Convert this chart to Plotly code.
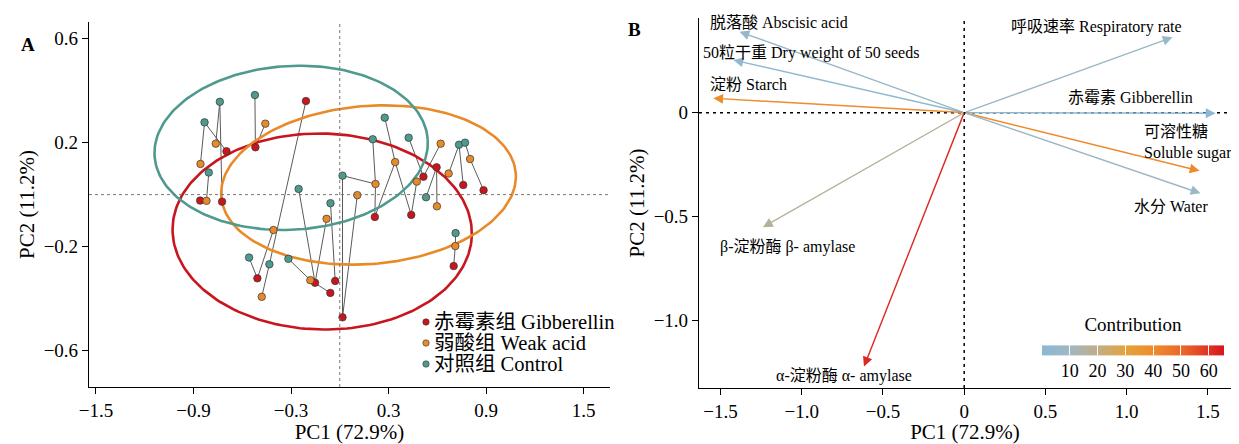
import numpy as np
import plotly.graph_objects as go
from plotly.colors import sample_colorscale

# ---------------- Panel A: PCA scores ----------------
gib_x = [-0.208, -0.697, -0.519, 0.515, 0.596, 0.760, 0.885, -0.859, -0.724, 0.216, 0.440,
         -0.507, -0.152, -0.058, -0.028, 0.017, 0.701]
gib_y = [0.360, 0.167, 0.182, 0.069, 0.105, 0.037, 0.017, -0.023, -0.027, -0.086, -0.078,
         -0.322, -0.339, -0.378, -0.332, -0.472, -0.275]
weak_x = [-0.857, -0.763, -0.458, 0.341, 0.220, 0.108, 0.474, 0.621, 0.670, 0.802, -0.820,
          0.598, -0.408, -0.081, -0.181, -0.480, 0.711]
weak_y = [0.118, 0.196, 0.273, 0.125, 0.041, -0.002, 0.050, 0.196, 0.081, 0.137, -0.024,
          -0.045, -0.136, -0.093, -0.329, -0.393, -0.198]
ctrl_x = [-0.832, -0.738, -0.522, -0.806, -0.253, 0.017, 0.277, 0.203, 0.424, 0.734, 0.771,
          0.531, -0.057, -0.558, -0.433, -0.316, 0.713]
ctrl_y = [0.278, 0.357, 0.383, 0.085, 0.022, 0.073, 0.296, 0.213, 0.219, 0.192, 0.200,
          -0.010, -0.033, -0.242, -0.268, -0.247, -0.148]

# links between samples: (group, index, group, index), 1-based
links = [("C", 1, "W", 1), ("C", 1, "G", 2), ("C", 2, "W", 2), ("C", 2, "G", 9),
         ("C", 3, "G", 3), ("G", 3, "W", 3), ("C", 4, "W", 11), ("W", 11, "G", 8),
         ("G", 1, "C", 15), ("C", 15, "W", 16), ("W", 13, "G", 12), ("C", 14, "G", 12),
         ("C", 5, "G", 13), ("C", 16, "W", 15), ("W", 15, "G", 14), ("W", 14, "G", 13),
         ("C", 13, "G", 15), ("C", 6, "G", 16), ("W", 6, "G", 16), ("C", 6, "W", 5),
         ("C", 8, "W", 5), ("W", 5, "G", 10), ("W", 4, "G", 10), ("C", 7, "W", 4),
         ("W", 4, "G", 11), ("W", 7, "G", 11), ("C", 9, "G", 4), ("W", 8, "G", 4),
         ("G", 5, "W", 12), ("G", 5, "C", 12), ("C", 10, "W", 9), ("C", 10, "G", 6),
         ("C", 11, "W", 10), ("W", 10, "G", 7), ("C", 17, "W", 17), ("W", 17, "G", 17)]

group_names = ["赤霉素组 Gibberellin", "弱酸组 Weak acid", "对照组 Control"]
# confidence ellipses: centre, semi-axes, tilt (degrees)
ell_cx = [-0.108, 0.177, -0.299]
ell_cy = [-0.142, 0.037, 0.180]
ell_a = [0.921, 0.909, 0.842]
ell_b = [0.377, 0.304, 0.315]
ell_tilt = [-1.3, 4.6, 3.3]

a_xticks = [-1.5, -0.9, -0.3, 0.3, 0.9, 1.5]
a_yticks = [-0.6, -0.2, 0.2, 0.6]

# ---------------- Panel B: loadings ----------------
var_labels = ["脱落酸 Abscisic acid", "50粒干重 Dry weight of 50 seeds", "淀粉 Starch",
              "呼吸速率 Respiratory rate", "赤霉素 Gibberellin", "可溶性糖<br>Soluble sugar",
              "水分 Water", "β-淀粉酶 β- amylase", "α-淀粉酶 α- amylase"]
load_x = [-1.383, -1.421, -1.545, 1.283, 1.548, 1.449, 1.455, -1.239, -0.617]
load_y = [0.389, 0.253, 0.069, 0.362, -0.003, -0.280, -0.388, -0.551, -1.221]
contrib = [6, 3, 40, 7, 1, 41, 8, 17, 62]

b_xticks = [-1.5, -1.0, -0.5, 0, 0.5, 1.0, 1.5]
b_xtext = ["−1.5", "−1.0", "−0.5", "0", "0.5", "1.0", "1.5"]
b_yticks = [-1.0, -0.5, 0]
b_ytext = ["−1.0", "−0.5", "0"]
cb_ticks = [10, 20, 30, 40, 50, 60]

# ---------------- styling ----------------
FONT = "Liberation Serif, Times New Roman, Noto Sans CJK SC, serif"
colors = ["#C8161E", "#E98A2A", "#4F9A8E"]
cscale = [[0.0, "#8BB8D5"], [0.15, "#9FB8C2"], [0.3, "#BFAE8A"], [0.46, "#E3A43C"],
          [0.62, "#EE8B2C"], [0.78, "#EA6529"], [1.0, "#D8141D"]]
CMIN, CMAX = 0, 65.5
ASPECT = 1.597  # px per y unit / px per x unit in panel A

# the page body has an 8px margin: size the figure to the remaining window
OFF = 8
W, H = 1239 - OFF, 444 - OFF


def xp(px):  # page pixel -> paper x
    return (px - OFF) / W


def yp(py):  # page pixel -> paper y
    return (H - (py - OFF)) / H


fig = go.Figure()

pts = {"G": (gib_x, gib_y), "W": (weak_x, weak_y), "C": (ctrl_x, ctrl_y)}
lx, ly = [], []
for g1, i1, g2, i2 in links:
    lx += [pts[g1][0][i1 - 1], pts[g2][0][i2 - 1], None]
    ly += [pts[g1][1][i1 - 1], pts[g2][1][i2 - 1], None]
fig.add_trace(go.Scatter(x=lx, y=ly, mode="lines", line=dict(color="#5a5a5a", width=1),
                         showlegend=False, hoverinfo="skip", xaxis="x", yaxis="y"))

t = np.linspace(0, 2 * np.pi, 200)
for k in range(3):
    th = np.deg2rad(ell_tilt[k])
    bk = ell_b[k] * ASPECT
    xs = ell_a[k] * np.cos(t) * np.cos(th) - bk * np.sin(t) * np.sin(th)
    ys = ell_a[k] * np.cos(t) * np.sin(th) + bk * np.sin(t) * np.cos(th)
    fig.add_trace(go.Scatter(x=ell_cx[k] + xs, y=ell_cy[k] + ys / ASPECT, mode="lines",
                             line=dict(color=colors[k], width=2.6), showlegend=False,
                             hoverinfo="skip", xaxis="x", yaxis="y"))

for k, key in enumerate(["G", "W", "C"]):
    fig.add_trace(go.Scatter(x=pts[key][0], y=pts[key][1], mode="markers", name=group_names[k],
                             showlegend=False,
                             marker=dict(color=colors[k], size=7.5, line=dict(color="#333", width=0.7)),
                             xaxis="x", yaxis="y"))

# colour scale trace for panel B (invisible markers, carries the colorbar)
fig.add_trace(go.Scatter(
    x=load_x, y=load_y, mode="markers", showlegend=False, hoverinfo="skip",
    xaxis="x2", yaxis="y2",
    marker=dict(size=1, opacity=0, color=contrib, colorscale=cscale, cmin=CMIN, cmax=CMAX,
                showscale=True,
                colorbar=dict(orientation="h", x=xp(1133), xanchor="center", y=yp(392),
                              yanchor="bottom", len=182, lenmode="pixels", thickness=10,
                              outlinewidth=0, xpad=0, ypad=0,
                              tickvals=cb_ticks, ticks="inside", ticklen=10, tickcolor="white",
                              tickwidth=1, tickfont=dict(family=FONT, size=18, color="black"),
                              title=dict(text="Contribution", side="top",
                                         font=dict(family=FONT, size=19, color="black"))))))

arrow_cols = sample_colorscale(cscale, [(c - CMIN) / (CMAX - CMIN) for c in contrib])
annotations = []
for xv, yv, col in zip(load_x, load_y, arrow_cols):
    annotations.append(dict(x=xv, y=yv, ax=0, ay=0, xref="x2", yref="y2", axref="x2", ayref="y2",
                            text="", showarrow=True, arrowhead=2, arrowsize=1.4, arrowwidth=1.4,
                            arrowcolor=col))

label_pos = [(-1.576, 0.433), (-1.620, 0.286), (-1.576, 0.133), (0.275, 0.413), (0.629, 0.072),
             (1.092, -0.142), (1.035, -0.449), (-1.516, -0.644), (-1.174, -1.266)]
for txt, (px, py) in zip(var_labels, label_pos):
    annotations.append(dict(x=px, y=py, xref="x2", yref="y2", text=txt, showarrow=False,
                            xanchor="left", yanchor="middle", align="left",
                            font=dict(family=FONT, size=16, color="black")))

annotations.append(dict(x=xp(19), y=yp(32), xref="paper", yref="paper", text="<b>A</b>",
                        showarrow=False, font=dict(family=FONT, size=19, color="black")))
annotations.append(dict(x=xp(635), y=yp(17), xref="paper", yref="paper", text="<b>B</b>",
                        showarrow=False, font=dict(family=FONT, size=19, color="black")))

shapes = [
    dict(type="line", xref="x", yref="y domain", x0=0, x1=0, y0=0, y1=1,
         line=dict(color="#777", width=1, dash="dot")),
    dict(type="line", xref="x domain", yref="y", x0=0, x1=1, y0=0, y1=0,
         line=dict(color="#777", width=1, dash="dot")),
    dict(type="line", xref="x2", yref="y2 domain", x0=0, x1=0, y0=0, y1=1,
         line=dict(color="black", width=1.5, dash="3px,4px")),
    dict(type="line", xref="x2 domain", yref="y2", x0=0, x1=1, y0=0, y1=0,
         line=dict(color="black", width=1.5, dash="3px,4px")),
]

# manual legend for panel A (dot + text)
leg_y = [322, 343, 364]
for k in range(3):
    yc = yp(leg_y[k])
    shapes.append(dict(type="circle", xref="paper", yref="paper",
                       x0=xp(426 - 3.2), x1=xp(426 + 3.2), y0=yc - 3.2 / H, y1=yc + 3.2 / H,
                       fillcolor=colors[k], line=dict(color="#333", width=0.6)))
    annotations.append(dict(x=xp(432), y=yc, xref="paper", yref="paper", text=group_names[k],
                            showarrow=False, xanchor="left", yanchor="middle",
                            font=dict(family=FONT, size=20.5, color="black")))

axis_common = dict(showline=True, linecolor="black", linewidth=1.2, ticks="outside", ticklen=6,
                   tickcolor="black", tickwidth=1.2, showgrid=False, zeroline=False, mirror=False,
                   automargin=False, tickfont=dict(family=FONT, size=19, color="black"))

fig.update_layout(
    width=W, height=H, margin=dict(l=0, r=0, t=0, b=0, autoexpand=False),
    paper_bgcolor="white", plot_bgcolor="white",
    font=dict(family=FONT, color="black"), showlegend=False,
    xaxis=dict(domain=[xp(89), xp(610)], range=[-1.543, 1.663], tickvals=a_xticks,
               title=dict(text="PC1 (72.9%)", font=dict(family=FONT, size=21), standoff=2),
               anchor="y", **axis_common),
    yaxis=dict(domain=[yp(387), yp(22)], range=[-0.74, 0.664], tickvals=a_yticks,
               title=dict(text="PC2 (11.2%)", font=dict(family=FONT, size=21), standoff=3),
               anchor="x", **axis_common),
    xaxis2=dict(domain=[xp(699), xp(1231)], range=[-1.633, 1.643], tickvals=b_xticks,
                ticktext=b_xtext,
                title=dict(text="PC1 (72.9%)", font=dict(family=FONT, size=21), standoff=2),
                anchor="y2", **axis_common),
    yaxis2=dict(domain=[yp(388), yp(18)], range=[-1.324, 0.455], tickvals=b_yticks,
                ticktext=b_ytext,
                title=dict(text="PC2 (11.2%)", font=dict(family=FONT, size=21), standoff=3),
                anchor="x2", **axis_common),
    annotations=annotations, shapes=shapes,
)

fig.write_html("out.html")
